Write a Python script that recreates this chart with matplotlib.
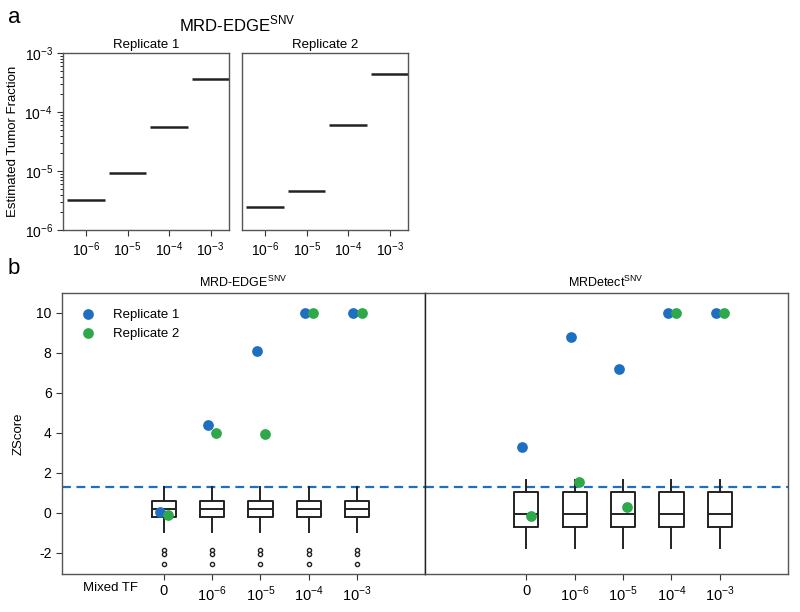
import numpy as np
import matplotlib
matplotlib.use('Agg')
import matplotlib.pyplot as plt
from matplotlib.ticker import FixedLocator, FixedFormatter

plt.rcParams['font.family'] = ['Liberation Sans', 'DejaVu Sans']
plt.rcParams['axes.unicode_minus'] = False

# panel a: estimated tumor fraction per spiked-in level
tf_labels = ['10$^{\\mathregular{-6}}$', '10$^{\\mathregular{-5}}$',
             '10$^{\\mathregular{-4}}$', '10$^{\\mathregular{-3}}$']
est_rep1 = [3.2e-6, 9.3e-6, 5.6e-5, 3.7e-4]
est_rep2 = [2.45e-6, 4.65e-6, 6.0e-5, 4.5e-4]

# panel b: z-scores
mix_labels = ['0'] + tf_labels
edge_rep1 = [0.05, 4.38, 8.1, 10, 10]
edge_rep2 = [-0.12, 3.97, 3.92, 10, 10]
mrd_rep1 = [3.3, 8.78, 7.17, 10, 10]
mrd_rep2 = [-0.15, 1.52, 0.27, 10, 10]
threshold = 1.3

# null-distribution box stats (same for every mixture level)
edge_box = dict(med=0.17, q1=-0.23, q3=0.6, whislo=-0.95, whishi=1.3,
                fliers=[-1.87, -2.05, -2.58])
mrd_box = dict(med=-0.08, q1=-0.72, q3=1.03, whislo=-1.75, whishi=1.63,
               fliers=[])

blue = '#1f6fc0'
green = '#2ea84a'
frame = '#555555'

fig = plt.figure(figsize=(8, 6.12), dpi=100)


def style_axes(ax):
    for s in ax.spines.values():
        s.set_color(frame)
        s.set_linewidth(1.0)
    ax.tick_params(labelsize=10, color='#333333', length=4)


# ---- panel a ----
ax1 = fig.add_axes([0.079, 0.6242, 0.2075, 0.2887])
ax2 = fig.add_axes([0.3029, 0.6242, 0.2075, 0.2887], sharey=ax1)
for ax, vals, name in [(ax1, est_rep1, 'Replicate 1'), (ax2, est_rep2, 'Replicate 2')]:
    x = np.arange(len(vals))
    ax.hlines(vals, x - 0.45, x + 0.45, color='#222222', lw=1.8)
    ax.set_yscale('log')
    ax.set_ylim(1e-6, 1e-3)
    ax.set_xlim(-0.55, 3.45)
    ax.set_xticks(x)
    ax.set_xticklabels(tf_labels)
    ax.set_title(name, fontsize=9.5, pad=4)
    style_axes(ax)
ax1.yaxis.set_major_locator(FixedLocator([1e-6, 1e-5, 1e-4, 1e-3]))
ax1.yaxis.set_major_formatter(FixedFormatter(tf_labels))
ax1.set_ylabel('Estimated Tumor Fraction', fontsize=9.5)
ax1.tick_params(axis='y', which='minor', length=2)
ax2.tick_params(axis='y', which='both', left=False, labelleft=False)
fig.text(0.296, 0.96, 'MRD-EDGE$^{\\mathregular{SNV}}$', ha='center', va='center', fontsize=12)
fig.text(0.01, 0.972, 'a', fontsize=16, va='center')

# ---- panel b ----
bx1 = fig.add_axes([0.0775, 0.0621, 0.4537, 0.4597])
bx2 = fig.add_axes([0.531, 0.0621, 0.4534, 0.4597], sharey=bx1)
panels = [(bx1, edge_box, edge_rep1, edge_rep2, 'MRD-EDGE$^{\\mathregular{SNV}}$'),
          (bx2, mrd_box, mrd_rep1, mrd_rep2, 'MRDetect$^{\\mathregular{SNV}}$')]
for ax, st, r1, r2, title in panels:
    x = np.arange(len(mix_labels))
    stats = [dict(st) for _ in x]
    ax.bxp(stats, positions=x, widths=0.5, showfliers=True, patch_artist=False,
           boxprops=dict(color='#222222', lw=1.4),
           medianprops=dict(color='#222222', lw=1.4),
           whiskerprops=dict(color='#222222', lw=1.4),
           capprops=dict(lw=0),
           flierprops=dict(marker='o', markersize=3, markerfacecolor='white',
                           markeredgecolor='#222222', markeredgewidth=1.0))
    ax.axhline(threshold, color=blue, ls='--', lw=1.6, dashes=(4, 2.5), zorder=1)
    ax.scatter(x - 0.08, r1, s=45, color=blue, zorder=3, label='Replicate 1')
    ax.scatter(x + 0.09, r2, s=45, color=green, zorder=3, label='Replicate 2')
    ax.set_xlim(-2.1, 5.4)
    ax.set_ylim(-3.07, 11.0)
    ax.set_xticks(x)
    ax.set_xticklabels(mix_labels)
    ax.set_title(title, fontsize=9, pad=4)
    style_axes(ax)
    ax.tick_params(axis='x', labelsize=10.5)
bx1.spines['right'].set_color('#222222')
bx2.spines['left'].set_color('#222222')
bx1.set_yticks([-2, 0, 2, 4, 6, 8, 10])
bx1.set_ylabel('ZScore', fontsize=9.5, labelpad=8)
bx2.tick_params(axis='y', left=False, labelleft=False)
bx1.legend(loc='upper left', frameon=False, fontsize=9.5, handletextpad=0.9,
           bbox_to_anchor=(0.0, 0.99), borderaxespad=0.6)
fig.text(0.138, 0.039, 'Mixed TF', ha='center', va='center', fontsize=9.5)
fig.text(0.01, 0.562, 'b', fontsize=16, va='center')

fig.savefig('out.png', dpi=100)
